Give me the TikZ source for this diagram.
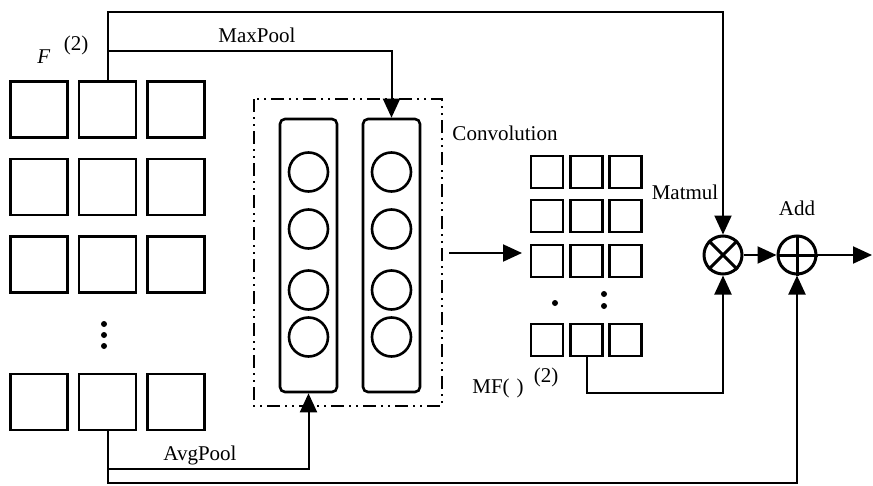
\documentclass[tikz,border=0pt]{standalone}
\usepackage{fontspec}
\setmainfont{Liberation Serif}
\usetikzlibrary{arrows.meta}
\begin{document}
\begin{tikzpicture}[x=1pt,y=-1pt,
  txt/.style={inner sep=0pt,font=\fontsize{21}{25}\selectfont},
  bigsq/.style={draw,line width=2.8pt,minimum width=57pt,minimum height=56pt,inner sep=0pt},
  smsq/.style={draw,line width=2.6pt,minimum width=32pt,minimum height=32pt,inner sep=0pt},
  rr/.style={draw,line width=2.6pt,rounded corners=5pt,minimum width=57pt,minimum height=273pt,inner sep=0pt},
  neuron/.style={draw,circle,line width=2.6pt,minimum size=39pt,inner sep=0pt},
  op/.style={draw,circle,line width=3pt,minimum size=38pt,inner sep=0pt},
  conn/.style={line width=2pt},
  arr/.style={conn,-{Triangle[length=19pt,width=17pt]}},
  dotc/.style={fill,circle,inner sep=0pt,minimum size=6pt}
]
\useasboundingbox (0,0) rectangle (873,485);
% left grid
\foreach \c/\x in {1/39,2/107.5,3/176}{
  \foreach \r/\y in {1/109.5,2/187,3/264.5,4/402}{
    \node[bigsq] (L\r\c) at (\x,\y) {};
  }
}
\node[dotc] (ld1) at (104,324) {};
\node[dotc] (ld2) at (104,335) {};
\node[dotc] (ld3) at (104,346) {};
% dashed box
\draw[line width=2.4pt,dash pattern=on 13pt off 5pt on 2pt off 5pt on 2pt off 5pt] (254,99) rectangle (442,406);
% rounded columns
\node[rr] (rr1) at (308.5,255.5) {};
\node[rr] (rr2) at (391.5,255.5) {};
\foreach \i/\y in {1/172,2/229,3/290,4/337}{
  \node[neuron] (n1\i) at (308.5,\y) {};
  \node[neuron] (n2\i) at (391.5,\y) {};
}
% small grid
\foreach \c/\x in {1/547,2/586.5,3/625.5}{
  \foreach \r/\y in {1/172,2/216,3/261,4/340}{
    \node[smsq] (S\r\c) at (\x,\y) {};
  }
}
\node[dotc] (sd1) at (555,303) {};
\node[dotc] (sd2) at (604,294) {};
\node[dotc] (sd3) at (604,306) {};
% operators
\node[op] (mat) at (723,255) {};
\draw[line width=3pt] (mat.north west) -- (mat.south east) (mat.north east) -- (mat.south west);
\node[op] (add) at (797,255) {};
\draw[line width=3pt] (add.north) -- (add.south) (add.west) -- (add.east);
% labels
\node[txt] (lF) at (44,57) {\textit{F}};
\node[txt] (lF2) at (76,45) {(2)};
\node[txt] (lmax) at (257,35) {MaxPool};
\node[txt] (lavg) at (200,455) {AvgPool};
\node[txt] (lconv) at (505,133) {Convolution};
\node[txt] (lmat) at (685,192) {Matmul};
\node[txt] (ladd) at (797,208) {Add};
\node[txt] (lmf) at (498,388) {MF(\,\,)};
\node[txt] (lmf2) at (546,377) {(2)};
% coordinates
\coordinate (tcorner) at (723,12);
\coordinate (mpj) at (107.5,51);
\coordinate (apj) at (107.5,469);
\coordinate (bcorner) at (107.5,483);
\coordinate (cs) at (449,253);
\coordinate (ce) at (522,253);
\coordinate (out) at (872,255);
\coordinate (mfc) at (586.5,393);
% connectors
\draw[arr] (L12.north) |- (tcorner) -- (mat.north);
\draw[arr] (mpj) -| (rr2.north);
\draw[arr] (L42.south) -- (apj) -| (rr1.south);
\draw[arr] (apj) -- (bcorner) -| (add.south);
\draw[arr] (cs) -- (ce);
\draw[arr] (mat) -- (add);
\draw[arr] (add) -- (out);
\draw[arr] (S42.south) -- (mfc) -| (mat.south);
\end{tikzpicture}
\end{document}
